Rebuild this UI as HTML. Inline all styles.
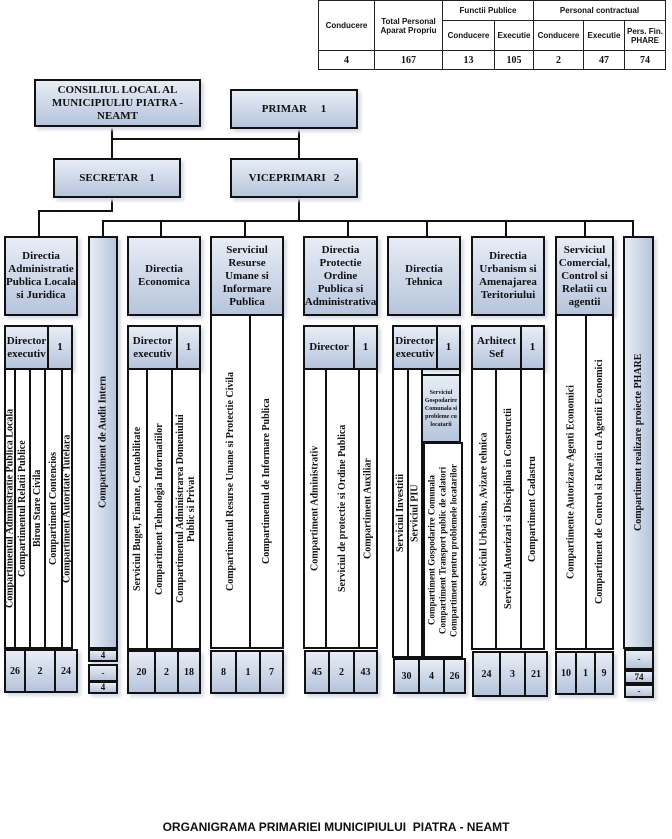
<!DOCTYPE html>
<html><head><meta charset="utf-8"><style>
body{margin:0;width:672px;height:839px;background:#fff;position:relative;overflow:hidden;font-family:"Liberation Serif",serif;font-weight:bold;color:#111}
.a{position:absolute;box-sizing:border-box}
.b{position:absolute;box-sizing:border-box;border:2px solid #111;background:linear-gradient(to bottom,#e8edf6,#b6c5dc);display:flex;align-items:center;justify-content:center;text-align:center;font-size:11px;line-height:13px;box-shadow:3px 3px 3px #d8dde6}
.c{position:absolute;box-sizing:border-box;border:2px solid #111;background:#fff;display:flex;align-items:center;justify-content:center;writing-mode:vertical-rl;transform:rotate(180deg);white-space:nowrap;font-size:10px;line-height:11px;text-align:center}
.cb{background:linear-gradient(to left,#e8edf6,#b6c5dc)}
.h{position:absolute;background:#111;height:2px}
.v{position:absolute;background:#111;width:2px}
table{position:absolute;left:318px;top:0;width:348px;height:70px;border-collapse:collapse;font-family:"Liberation Sans",sans-serif;font-size:8px;font-weight:bold}
td{border:1px solid #222;text-align:center;padding:0}
.n{font-family:"Liberation Serif",serif;font-size:10px}
</style></head><body>
<table>
<tr style="height:20px"><td rowspan="2" style="width:55px">Conducere</td><td rowspan="2" style="width:67px">Total Personal Aparat Propriu</td><td colspan="2">Functii Publice</td><td colspan="3">Personal contractual</td></tr>
<tr style="height:30px"><td style="width:51px">Conducere</td><td style="width:38px">Executie</td><td style="width:49px">Conducere</td><td style="width:40px">Executie</td><td>Pers. Fin. PHARE</td></tr>
<tr class="n"><td>4</td><td>167</td><td>13</td><td>105</td><td>2</td><td>47</td><td>74</td></tr>
</table>

<div class="v" style="left:111px;top:127px;height:85px"></div>
<div class="h" style="left:111px;top:138px;width:189px"></div>
<div class="v" style="left:298px;top:129px;height:92px"></div>
<div class="h" style="left:38px;top:210px;width:75px"></div>
<div class="v" style="left:38px;top:210px;height:27px"></div>
<div class="h" style="left:102px;top:220px;width:532px"></div>
<div class="v" style="left:102px;top:220px;height:17px"></div>
<div class="v" style="left:160px;top:220px;height:17px"></div>
<div class="v" style="left:244px;top:220px;height:17px"></div>
<div class="v" style="left:347px;top:220px;height:17px"></div>
<div class="v" style="left:426px;top:220px;height:17px"></div>
<div class="v" style="left:505px;top:220px;height:17px"></div>
<div class="v" style="left:584px;top:220px;height:17px"></div>
<div class="v" style="left:632px;top:220px;height:17px"></div>

<div class="b" style="left:34px;top:79px;width:167px;height:48px;font-size:11px">CONSILIUL LOCAL AL<br>MUNICIPIULIU PIATRA -<br>NEAMT</div>
<div class="b" style="left:230px;top:89px;width:128px;height:40px">PRIMAR &nbsp;&nbsp;&nbsp; 1</div>
<div class="b" style="left:53px;top:158px;width:128px;height:40px">SECRETAR &nbsp;&nbsp; 1</div>
<div class="b" style="left:230px;top:158px;width:128px;height:40px">VICEPRIMARI &nbsp; 2</div>

<div class="b" style="left:4px;top:236px;width:74px;height:80px">Directia Administratie Publica Locala si Juridica</div>
<div class="b" style="left:127px;top:236px;width:74px;height:80px">Directia<br>Economica</div>
<div class="b" style="left:210px;top:236px;width:74px;height:80px">Serviciul Resurse Umane si Informare Publica</div>
<div class="b" style="left:303px;top:236px;width:75px;height:80px">Directia Protectie Ordine Publica si Administrativa</div>
<div class="b" style="left:387px;top:236px;width:74px;height:80px">Directia<br>Tehnica</div>
<div class="b" style="left:471px;top:236px;width:74px;height:80px">Directia Urbanism si Amenajarea Teritoriului</div>
<div class="b" style="left:555px;top:236px;width:59px;height:80px">Serviciul Comercial, Control si Relatii cu agentii</div>

<div class="b" style="left:4px;top:325px;width:45px;height:45px">Director executiv</div>
<div class="b" style="left:47px;top:325px;width:26px;height:45px">1</div>
<div class="b" style="left:127px;top:325px;width:51px;height:45px">Director executiv</div>
<div class="b" style="left:176px;top:325px;width:25px;height:45px">1</div>
<div class="b" style="left:303px;top:325px;width:52px;height:45px">Director</div>
<div class="b" style="left:353px;top:325px;width:25px;height:45px">1</div>
<div class="b" style="left:392px;top:325px;width:46px;height:45px">Director executiv</div>
<div class="b" style="left:436px;top:325px;width:25px;height:45px">1</div>
<div class="b" style="left:471px;top:325px;width:51px;height:45px">Arhitect<br>Sef</div>
<div class="b" style="left:520px;top:325px;width:25px;height:45px">1</div>

<div class="c" style="left:4px;top:368px;width:12px;height:281px">Compartimentul Administratie Publica Locala</div>
<div class="c" style="left:14px;top:368px;width:17px;height:281px">Compartimentul Relatii Publice</div>
<div class="c" style="left:29px;top:368px;width:17px;height:281px">Birou Stare Civila</div>
<div class="c" style="left:44px;top:368px;width:19px;height:281px">Compartiment Contencios</div>
<div class="c" style="left:61px;top:368px;width:12px;height:281px">Compartiment Autoritate Tutelara</div>

<div class="c cb" style="left:88px;top:236px;width:30px;height:413px;box-shadow:-3px -3px 3px #d8dde6">Compartiment de Audit Intern</div>

<div class="c" style="left:127px;top:368px;width:21px;height:282px">Serviciul Buget, Finante, Contabilitate</div>
<div class="c" style="left:146px;top:368px;width:27px;height:282px">Compartiment Tehnologia Informatiilor</div>
<div class="c" style="left:171px;top:368px;width:30px;height:282px">Compartimentul Administrarea Domeniului<br>Public si Privat</div>

<div class="c" style="left:210px;top:314px;width:41px;height:335px">Compartimentul Resurse Umane si Protectie Civila</div>
<div class="c" style="left:249px;top:314px;width:35px;height:335px">Compartimentul de Informare Publica</div>

<div class="c" style="left:303px;top:368px;width:24px;height:281px">Compartiment Administrativ</div>
<div class="c" style="left:325px;top:368px;width:35px;height:281px">Serviciul de protectie si Ordine Publica</div>
<div class="c" style="left:358px;top:368px;width:20px;height:281px">Compartiment Auxiliar</div>

<div class="c" style="left:392px;top:368px;width:17px;height:290px">Serviciul Investitii</div>
<div class="c" style="left:407px;top:368px;width:16px;height:290px">Serviciul PIU</div>
<div class="a" style="left:421px;top:368px;width:40px;height:290px;border:2px solid #111;border-left:none"></div>
<div class="b" style="left:421px;top:374px;width:40px;height:69px;font-size:6px;line-height:8px;box-shadow:none">Serviciul Gospodarire Comunala si probleme cu locatarii</div>
<div class="c" style="left:423px;top:442px;width:40px;height:216px;font-size:9px;line-height:11px">Compartiment Gospodarire Comunala<br>Compartiment Transport public de calatori<br>Compartiment pentru problemele locatarilor</div>

<div class="c" style="left:471px;top:368px;width:26px;height:282px">Serviciul Urbanism, Avizare tehnica</div>
<div class="c" style="left:495px;top:368px;width:27px;height:282px">Serviciul Autorizari si Disciplina in Constructii</div>
<div class="c" style="left:520px;top:368px;width:25px;height:282px">Compartiment Cadastru</div>

<div class="c" style="left:555px;top:314px;width:32px;height:336px">Compartimente Autorizare Agenti Economici</div>
<div class="c" style="left:585px;top:314px;width:29px;height:336px">Compartiment de Control si Relatii cu Agentii Economici</div>

<div class="c cb" style="left:623px;top:236px;width:31px;height:413px;box-shadow:-3px -3px 3px #d8dde6">Compartiment realizare proiecte PHARE</div>

<div class="b" style="left:4px;top:649px;width:22px;height:44px;font-size:10px">26</div>
<div class="b" style="left:24px;top:649px;width:32px;height:44px;font-size:10px">2</div>
<div class="b" style="left:54px;top:649px;width:24px;height:44px;font-size:10px">24</div>

<div class="b" style="left:88px;top:649px;width:30px;height:13px;font-size:9px;line-height:9px">4</div>
<div class="b" style="left:88px;top:664px;width:30px;height:18px;font-size:9px">-</div>
<div class="b" style="left:88px;top:681px;width:30px;height:13px;font-size:9px;line-height:9px">4</div>

<div class="b" style="left:127px;top:650px;width:29px;height:44px;font-size:10px">20</div>
<div class="b" style="left:154px;top:650px;width:25px;height:44px;font-size:10px">2</div>
<div class="b" style="left:177px;top:650px;width:24px;height:44px;font-size:10px">18</div>

<div class="b" style="left:210px;top:650px;width:27px;height:44px;font-size:10px">8</div>
<div class="b" style="left:235px;top:650px;width:26px;height:44px;font-size:10px">1</div>
<div class="b" style="left:259px;top:650px;width:25px;height:44px;font-size:10px">7</div>

<div class="b" style="left:304px;top:650px;width:26px;height:44px;font-size:10px">45</div>
<div class="b" style="left:328px;top:650px;width:27px;height:44px;font-size:10px">2</div>
<div class="b" style="left:353px;top:650px;width:25px;height:44px;font-size:10px">43</div>

<div class="b" style="left:393px;top:658px;width:27px;height:36px;font-size:10px">30</div>
<div class="b" style="left:418px;top:658px;width:27px;height:36px;font-size:10px">4</div>
<div class="b" style="left:443px;top:658px;width:23px;height:36px;font-size:10px">26</div>

<div class="b" style="left:472px;top:651px;width:29px;height:46px;font-size:10px">24</div>
<div class="b" style="left:499px;top:651px;width:27px;height:46px;font-size:10px">3</div>
<div class="b" style="left:524px;top:651px;width:24px;height:46px;font-size:10px">21</div>

<div class="b" style="left:555px;top:651px;width:22px;height:44px;font-size:10px">10</div>
<div class="b" style="left:575px;top:651px;width:21px;height:44px;font-size:10px">1</div>
<div class="b" style="left:594px;top:651px;width:20px;height:44px;font-size:10px">9</div>

<div class="b" style="left:624px;top:649px;width:30px;height:21px;font-size:9px">-</div>
<div class="b" style="left:624px;top:670px;width:30px;height:14px;font-size:9px">74</div>
<div class="b" style="left:624px;top:684px;width:30px;height:14px;font-size:9px">-</div>

<div class="a" style="left:0;top:820px;width:672px;text-align:center;font-family:'Liberation Sans',sans-serif;font-size:12px;white-space:pre">ORGANIGRAMA PRIMARIEI MUNICIPIULUI  PIATRA - NEAMT</div>
</body></html>
